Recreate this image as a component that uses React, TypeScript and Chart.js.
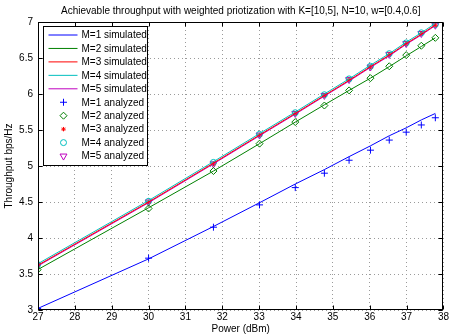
import React, { useEffect, useRef } from 'react';
import { Chart, registerables } from 'chart.js';
import { drawPoint } from 'chart.js/helpers';

Chart.register(...registerables);

const FONT = '"Liberation Sans", Arial, Helvetica, sans-serif';

const TITLE = 'Achievable throughput with weighted priotization with K=[10,5], N=10, w=[0.4,0.6]';
const X_LABEL = 'Power (dBm)';
const Y_LABEL = 'Throughput bps/Hz';

// Transmit power points (dBm)
const powerDbm = [26.99, 30.0, 31.76, 33.01, 33.98, 34.77, 35.44, 36.02, 36.53, 36.99, 37.4, 37.78];

// Simulated throughput (bps/Hz)
const m1Sim = [3.02, 3.71, 4.16, 4.49, 4.75, 4.95, 5.13, 5.28, 5.42, 5.53, 5.64, 5.73];
const m2Sim = [3.56, 4.42, 4.93, 5.31, 5.61, 5.85, 6.05, 6.22, 6.38, 6.53, 6.66, 6.78];
const m3Sim = [3.62, 4.5, 5.04, 5.43, 5.73, 5.98, 6.19, 6.38, 6.54, 6.7, 6.83, 6.96];
const m4Sim = [3.64, 4.52, 5.06, 5.45, 5.75, 6.0, 6.21, 6.4, 6.56, 6.72, 6.85, 6.98];
const m5Sim = [3.61, 4.49, 5.03, 5.42, 5.72, 5.97, 6.18, 6.37, 6.53, 6.69, 6.82, 6.95];

// Analyzed throughput (bps/Hz)
const m1Ana = [3.02, 3.72, 4.15, 4.46, 4.7, 4.9, 5.08, 5.22, 5.36, 5.47, 5.57, 5.67];
const m2Ana = [3.56, 4.41, 4.93, 5.31, 5.61, 5.84, 6.05, 6.22, 6.385, 6.54, 6.67, 6.78];
const m3Ana = [3.62, 4.5, 5.03, 5.43, 5.73, 5.98, 6.2, 6.375, 6.55, 6.7, 6.84, 6.955];
const m4Ana = [3.63, 4.51, 5.05, 5.44, 5.74, 5.99, 6.21, 6.385, 6.56, 6.71, 6.85, 6.965];
const m5Ana = [3.62, 4.5, 5.03, 5.43, 5.73, 5.98, 6.2, 6.375, 6.55, 6.7, 6.84, 6.955];

const COLORS = ['#0000ff', '#008000', '#ff0000', '#00bfbf', '#bf00bf'];
const simSeries = [m1Sim, m2Sim, m3Sim, m4Sim, m5Sim];
const anaSeries = [m1Ana, m2Ana, m3Ana, m4Ana, m5Ana];
const simLabels = ['M=1 simulated', 'M=2 simulated', 'M=3 simulated', 'M=4 simulated', 'M=5 simulated'];
const anaLabels = ['M=1 analyzed', 'M=2 analyzed', 'M=3 analyzed', 'M=4 analyzed', 'M=5 analyzed'];
const markerStyles = [
  { pointStyle: 'cross', radius: 3.5, rotation: 0 },
  { pointStyle: 'rectRot', radius: 3.5, rotation: 0 },
  { pointStyle: 'star', radius: 2.2, rotation: 0 },
  { pointStyle: 'circle', radius: 3, rotation: 0 },
  { pointStyle: 'triangle', radius: 4, rotation: 180 },
];

const xTicks = [27, 28, 29, 30, 31, 32, 33, 34, 35, 36, 37, 38];
const yTicks = [3, 3.5, 4, 4.5, 5, 5.5, 6, 6.5, 7];

const toPts = (ys: number[]) => ys.map((y, i) => ({ x: powerDbm[i], y }));

const framePlugin = {
  id: 'matlabFrame',
  afterDraw(chart: any) {
    const { ctx, chartArea } = chart;
    const { left, right, top, bottom } = chartArea;
    const xs = chart.scales.x;
    const ys = chart.scales.y;
    ctx.save();
    ctx.strokeStyle = '#000';
    ctx.lineWidth = 1;
    const L = Math.round(left) + 0.5;
    const R = Math.round(right) - 0.5;
    const T = Math.round(top) + 0.5;
    const B = Math.round(bottom) - 0.5;
    ctx.strokeRect(L, T, R - L, B - T);
    ctx.beginPath();
    xTicks.forEach((v) => {
      const p = Math.round(xs.getPixelForValue(v)) + 0.5;
      ctx.moveTo(p, B);
      ctx.lineTo(p, B - 4);
      ctx.moveTo(p, T);
      ctx.lineTo(p, T + 4);
    });
    yTicks.forEach((v) => {
      const p = Math.round(ys.getPixelForValue(v)) + 0.5;
      ctx.moveTo(L, p);
      ctx.lineTo(L + 4, p);
      ctx.moveTo(R, p);
      ctx.lineTo(R - 4, p);
    });
    ctx.stroke();

    // Title
    ctx.fillStyle = '#000';
    ctx.font = `10px ${FONT}`;
    ctx.textAlign = 'center';
    ctx.textBaseline = 'middle';
    ctx.fillText(TITLE, (left + right) / 2, 11);

    // Legend box
    const bx = Math.round(left) + 5 + 0.5;
    const by = Math.round(top) + 4 + 0.5;
    const bw = 104;
    const bh = 139;
    ctx.fillStyle = '#fff';
    ctx.fillRect(bx, by, bw, bh);
    ctx.strokeStyle = '#000';
    ctx.strokeRect(bx, by, bw, bh);
    ctx.textAlign = 'left';
    const rowH = 13.45;
    for (let i = 0; i < 10; i++) {
      const ry = by + 8.5 + i * rowH;
      const color = COLORS[i % 5];
      if (i < 5) {
        ctx.strokeStyle = color;
        ctx.lineWidth = 1;
        ctx.beginPath();
        ctx.moveTo(bx + 5, ry);
        ctx.lineTo(bx + 34, ry);
        ctx.stroke();
        ctx.fillStyle = '#000';
        ctx.fillText(simLabels[i], bx + 38, ry + 0.5);
      } else {
        const m = markerStyles[i - 5];
        ctx.strokeStyle = color;
        ctx.fillStyle = 'rgba(0,0,0,0)';
        ctx.lineWidth = 1;
        drawPoint(ctx, { pointStyle: m.pointStyle as any, radius: m.radius, rotation: m.rotation, borderWidth: 1 }, bx + 20, ry);
        ctx.fillStyle = '#000';
        ctx.fillText(anaLabels[i - 5], bx + 38, ry + 0.5);
      }
    }
    ctx.restore();
  },
};

export default function App() {
  const ref = useRef<HTMLCanvasElement | null>(null);

  useEffect(() => {
    document.body.style.margin = '0';
    Chart.defaults.font.family = FONT;
    const canvas = ref.current;
    if (!canvas) return;

    const datasets: any[] = [];
    simSeries.forEach((s, i) => {
      datasets.push({
        label: simLabels[i],
        data: toPts(s),
        borderColor: COLORS[i],
        backgroundColor: COLORS[i],
        borderWidth: 1,
        pointRadius: 0,
        showLine: true,
        tension: 0,
      });
    });
    anaSeries.forEach((s, i) => {
      const m = markerStyles[i];
      datasets.push({
        label: anaLabels[i],
        data: toPts(s),
        borderColor: COLORS[i],
        backgroundColor: 'rgba(0,0,0,0)',
        borderWidth: 1,
        pointStyle: m.pointStyle,
        pointRadius: m.radius,
        pointRotation: m.rotation,
        showLine: false,
      });
    });

    const chart = new Chart(canvas, {
      type: 'scatter',
      data: { datasets },
      options: {
        animation: false,
        responsive: false,
        maintainAspectRatio: false,
        layout: { padding: { top: 22, right: 6, left: 0, bottom: 0 } },
        plugins: {
          legend: { display: false },
          title: { display: false },
          tooltip: { enabled: false },
        },
        scales: {
          x: {
            type: 'linear',
            min: 27,
            max: 38,
            afterBuildTicks: (s: any) => {
              s.ticks = xTicks.map((v) => ({ value: v }));
            },
            ticks: {
              autoSkip: false,
              maxRotation: 0,
              color: '#000',
              font: { size: 10, family: FONT },
              padding: 1,
              callback: (v: any) => String(Number(v)),
            },
            grid: { color: '#9a9a9a', drawTicks: false, lineWidth: 1 },
            border: { display: false, dash: [1, 3] },
            title: { display: true, text: X_LABEL, color: '#000', font: { size: 10, family: FONT }, padding: 0 },
            afterFit: (s: any) => {
              s.height = 25;
            },
          },
          y: {
            type: 'linear',
            min: 3,
            max: 7,
            afterBuildTicks: (s: any) => {
              s.ticks = yTicks.map((v) => ({ value: v }));
            },
            ticks: {
              autoSkip: false,
              color: '#000',
              font: { size: 10, family: FONT },
              padding: 5,
              callback: (v: any) => String(Number(v)),
            },
            grid: { color: '#9a9a9a', drawTicks: false, lineWidth: 1 },
            border: { display: false, dash: [1, 3] },
            title: { display: true, text: Y_LABEL, color: '#000', font: { size: 10, family: FONT }, padding: 3 },
            afterFit: (s: any) => {
              s.width = 38;
            },
          },
        },
      },
      plugins: [framePlugin],
    });
    return () => chart.destroy();
  }, []);

  return (
    <div style={{ position: 'absolute', left: 0, top: 0, width: 450, height: 335, background: '#fff' }}>
      <canvas ref={ref} width={450} height={335} />
    </div>
  );
}
